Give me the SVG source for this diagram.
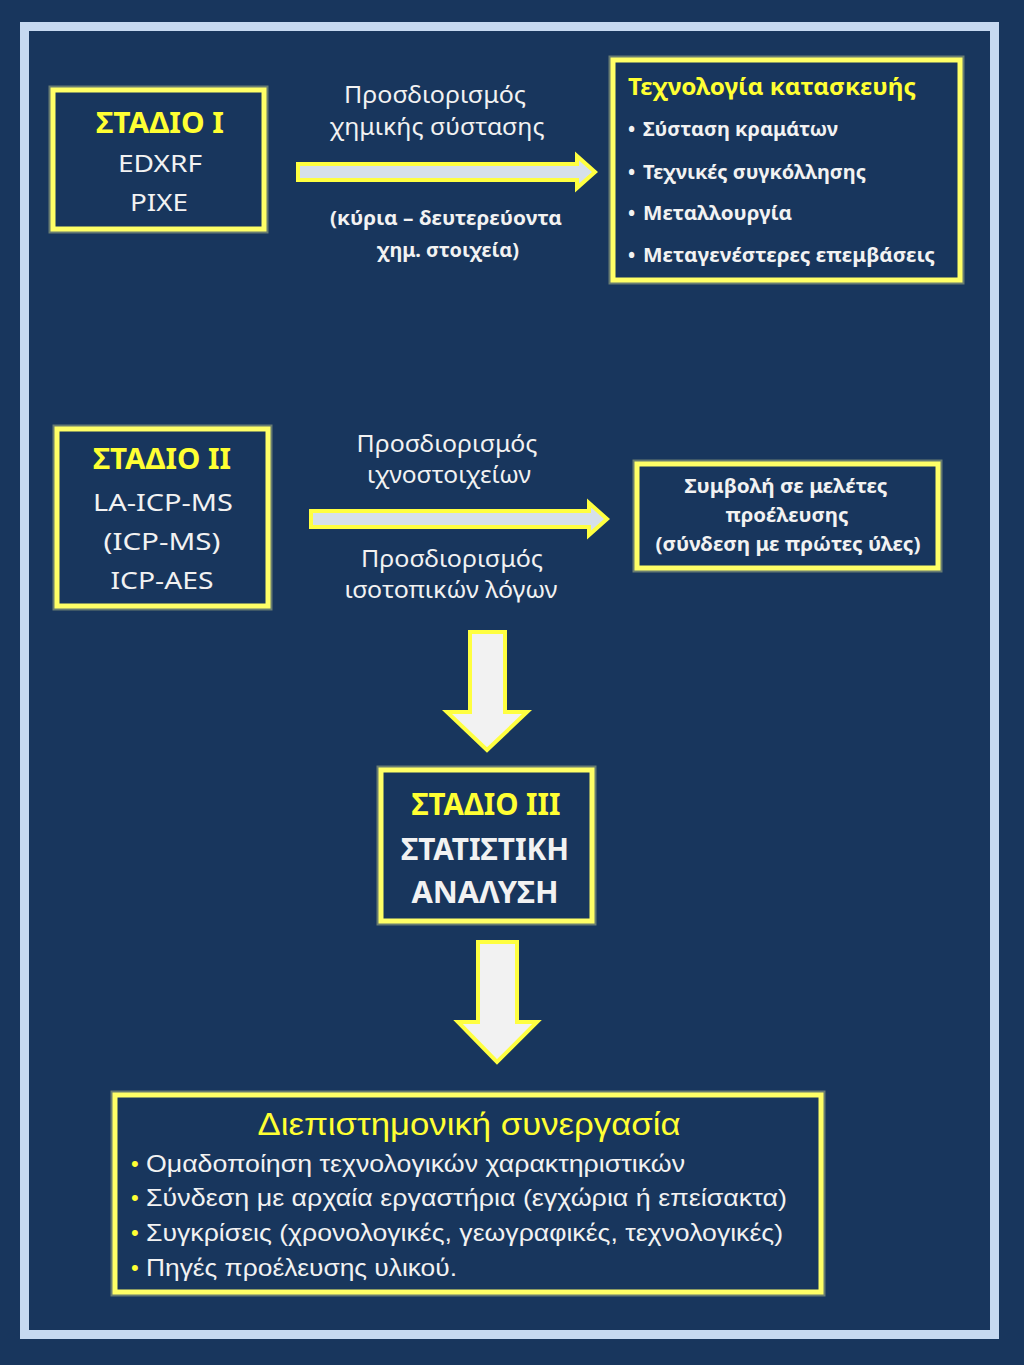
<svg xmlns="http://www.w3.org/2000/svg" width="1024" height="1365" viewBox="0 0 1024 1365">
<defs>
<style>
.bg{fill:#18365d}
.frame{fill:none;stroke:#c6d9f1;stroke-width:9}
.box{fill:#18365d;stroke:#ffff66;stroke-width:5}
.glow{fill:none;stroke:#ffff99;stroke-width:9;opacity:0.35}
.harrow{fill:#d6e0ea;stroke:#ffff40;stroke-width:4;stroke-linejoin:miter}
.varrow{fill:#f2f2f2;stroke:#ffff40;stroke-width:4;stroke-linejoin:miter}
text{font-family:"Noto Sans","Liberation Sans",sans-serif;fill:#f2f2f2}
.y{fill:#ffff33}
.b{font-weight:bold}
.c{text-anchor:middle}
.n{font-family:"Liberation Sans","Noto Sans",sans-serif}
</style>
</defs>
<rect class="bg" x="0" y="0" width="1024" height="1365"/>
<rect class="frame" x="24.5" y="26.5" width="970" height="1308"/>

<g id="connectors">
<polygon class="harrow" points="298,164 577,164 577,156 595,172 577,188 577,180 298,180"/>
<polygon class="harrow" points="311,511 589,511 589,503 607,519 589,535 589,527 311,527"/>
<polygon class="varrow" points="470,632 505,632 505,712 527,712 487,750 447,712 470,712"/>
<polygon class="varrow" points="478,942 517,942 517,1022 537,1022 497,1062 458,1022 478,1022"/>
</g>

<g id="labels-top">
<text class="c" x="435" y="103" font-size="24" textLength="182" lengthAdjust="spacingAndGlyphs">Προσδιορισμός</text>
<text class="c" x="437" y="135" font-size="24" textLength="215" lengthAdjust="spacingAndGlyphs">χημικής σύστασης</text>
<text class="c b" x="446" y="225" font-size="20" textLength="232" lengthAdjust="spacingAndGlyphs">(κύρια – δευτερεύοντα</text>
<text class="c b" x="448" y="257" font-size="20" textLength="142" lengthAdjust="spacingAndGlyphs">χημ. στοιχεία)</text>
</g>

<g id="labels-mid">
<text class="c" x="447" y="452" font-size="24" textLength="181" lengthAdjust="spacingAndGlyphs">Προσδιορισμός</text>
<text class="c" x="449" y="483" font-size="24" textLength="164" lengthAdjust="spacingAndGlyphs">ιχνοστοιχείων</text>
<text class="c" x="452" y="567" font-size="24" textLength="182" lengthAdjust="spacingAndGlyphs">Προσδιορισμός</text>
<text class="c" x="451" y="598" font-size="24" textLength="213" lengthAdjust="spacingAndGlyphs">ισοτοπικών λόγων</text>
</g>

<g id="stage1">
<rect class="glow" x="53" y="90" width="211" height="139"/>
<rect class="box" x="53" y="90" width="211" height="139"/>
<text class="c b y" x="160" y="133" font-size="28" textLength="128" lengthAdjust="spacingAndGlyphs">ΣΤΑΔΙΟ I</text>
<text class="c" x="160" y="172" font-size="24" textLength="84" lengthAdjust="spacingAndGlyphs">EDXRF</text>
<text class="c" x="159" y="211" font-size="24" textLength="58" lengthAdjust="spacingAndGlyphs">PIXE</text>
</g>

<g id="technology">
<rect class="glow" x="613" y="60" width="347" height="220"/>
<rect class="box" x="613" y="60" width="347" height="220"/>
<text class="b y" x="628" y="95" font-size="23" textLength="288" lengthAdjust="spacingAndGlyphs">Τεχνολογία κατασκευής</text>
<text class="b" x="628" y="136" font-size="19">•</text>
<text class="b" x="643" y="136" font-size="19" textLength="195" lengthAdjust="spacingAndGlyphs">Σύσταση κραμάτων</text>
<text class="b" x="628" y="179" font-size="19">•</text>
<text class="b" x="643" y="179" font-size="19" textLength="223" lengthAdjust="spacingAndGlyphs">Τεχνικές συγκόλλησης</text>
<text class="b" x="628" y="220" font-size="19">•</text>
<text class="b" x="643" y="220" font-size="19" textLength="149" lengthAdjust="spacingAndGlyphs">Μεταλλουργία</text>
<text class="b" x="628" y="262" font-size="19">•</text>
<text class="b" x="643" y="262" font-size="19" textLength="292" lengthAdjust="spacingAndGlyphs">Μεταγενέστερες επεμβάσεις</text>
</g>

<g id="stage2">
<rect class="glow" x="57" y="429" width="211" height="177"/>
<rect class="box" x="57" y="429" width="211" height="177"/>
<text class="c b y" x="162" y="469" font-size="28" textLength="138" lengthAdjust="spacingAndGlyphs">ΣΤΑΔΙΟ II</text>
<text class="c" x="163" y="511" font-size="24" textLength="140" lengthAdjust="spacingAndGlyphs">LA-ICP-MS</text>
<text class="c" x="162" y="550" font-size="24" textLength="117" lengthAdjust="spacingAndGlyphs">(ICP-MS)</text>
<text class="c" x="162" y="589" font-size="24" textLength="103" lengthAdjust="spacingAndGlyphs">ICP-AES</text>
</g>

<g id="provenance">
<rect class="glow" x="637" y="464" width="301" height="104"/>
<rect class="box" x="637" y="464" width="301" height="104"/>
<text class="c b" x="786" y="493" font-size="19" textLength="203" lengthAdjust="spacingAndGlyphs">Συμβολή σε μελέτες</text>
<text class="c b" x="787" y="522" font-size="19" textLength="123" lengthAdjust="spacingAndGlyphs">προέλευσης</text>
<text class="c b" x="788" y="551" font-size="19" textLength="265" lengthAdjust="spacingAndGlyphs">(σύνδεση με πρώτες ύλες)</text>
</g>

<g id="stage3">
<rect class="glow" x="381" y="770" width="211" height="151"/>
<rect class="box" x="381" y="770" width="211" height="151"/>
<text class="c b y" x="486" y="815" font-size="30" textLength="149" lengthAdjust="spacingAndGlyphs">ΣΤΑΔΙΟ III</text>
<text class="c b" x="485" y="860" font-size="30" textLength="168" lengthAdjust="spacingAndGlyphs">ΣΤΑΤΙΣΤΙΚΗ</text>
<text class="c b" x="485" y="903" font-size="30" textLength="147" lengthAdjust="spacingAndGlyphs">ΑΝΑΛΥΣΗ</text>
</g>

<g id="collaboration">
<rect class="glow" x="115" y="1095" width="706" height="197"/>
<rect class="box" x="115" y="1095" width="706" height="197"/>
<text class="c y n" x="469" y="1135" font-size="31" textLength="423" lengthAdjust="spacingAndGlyphs">Διεπιστημονική συνεργασία</text>
<text class="y n" x="131" y="1171" font-size="22">•</text>
<text class="n" x="146" y="1172" font-size="24" textLength="539" lengthAdjust="spacingAndGlyphs">Ομαδοποίηση τεχνολογικών χαρακτηριστικών</text>
<text class="y n" x="131" y="1205" font-size="22">•</text>
<text class="n" x="146" y="1206" font-size="24" textLength="641" lengthAdjust="spacingAndGlyphs">Σύνδεση με αρχαία εργαστήρια (εγχώρια ή επείσακτα)</text>
<text class="y n" x="131" y="1240" font-size="22">•</text>
<text class="n" x="146" y="1241" font-size="24" textLength="637" lengthAdjust="spacingAndGlyphs">Συγκρίσεις (χρονολογικές, γεωγραφικές, τεχνολογικές)</text>
<text class="y n" x="131" y="1275" font-size="22">•</text>
<text class="n" x="146" y="1276" font-size="24" textLength="311" lengthAdjust="spacingAndGlyphs">Πηγές προέλευσης υλικού.</text>
</g>
</svg>
